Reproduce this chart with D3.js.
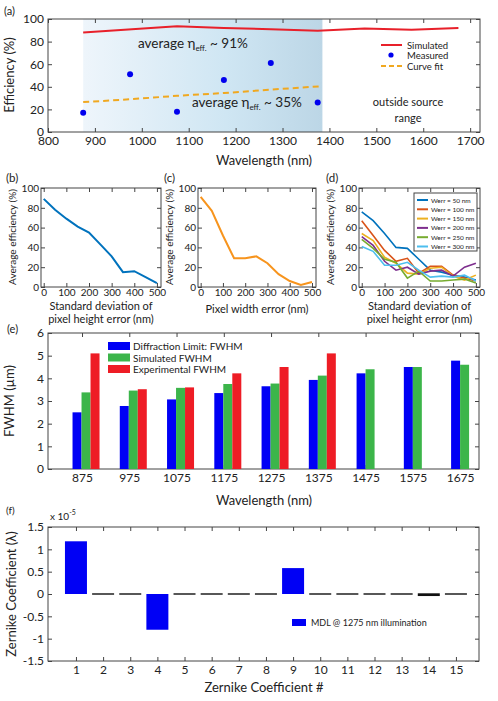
<!DOCTYPE html><html><head><meta charset="utf-8">
<script src="https://cdn.jsdelivr.net/npm/d3@7"></script>
<style>body{margin:0;background:#fff}text{font-family:Lato,"Open Sans",sans-serif;fill:#222}</style></head><body>
<svg id="s" width="498" height="701"></svg>
<script>
// ---- data ----
const simWl=[875,1075,1175,1275,1375,1475,1575,1675];
const simEff=[88,93.5,92,91,89.5,91.5,90.5,92];
const measWl=[875,975,1075,1175,1275,1375];
const measEff=[17,51,18,46,61,26];
const fitWl=[875,975,1075,1175,1275,1385];
const fitEff=[26.5,29,32,34.5,37.5,40.5];
const errX=[0,50,100,150,200,250,300,350,400,450,500];
const bEff=[89,78,69,61,55,43,31,15,16,10,4];
const cEff=[91,77,52,29,29,31,24,13,6,2,5];
const dNames=["Werr = 50 nm","Werr = 100 nm","Werr = 150 nm","Werr = 200 nm","Werr = 250 nm","Werr = 300 nm"];
const dColors=["#0072BD","#D95319","#EDB120","#7E2F8E","#77AC30","#4DBEEE"];
const d50=[76,67,54,40,39,28,17,15,12,10,7];
const d100=[67,52,37,26,29,14,21,21,12,9,6];
const d150=[54,47,30,24,14,13,19,20,11,7,12];
const d200=[51,42,26,17,20,13,16,17,11,20,24];
const d250=[48,39,28,25,9,16,6,6,7,8,4];
const d300=[41,36,22,22,25,17,10,11,10,12,6];
const eWl=[875,975,1075,1175,1275,1375,1475,1575,1675];
const eDiff=[2.5,2.78,3.07,3.35,3.65,3.93,4.22,4.5,4.78];
const eSim=[3.38,3.46,3.58,3.75,3.77,4.12,4.4,4.5,4.6];
const eExp=[5.1,3.52,3.6,4.22,4.5,5.1,null,null,null];
const zIdx=[1,2,3,4,5,6,7,8,9,10,11,12,13,14,15];
const zVal=[1.18,0,0,-0.8,0,0,0,0,0.58,0,0,0,0,-0.03,0];

const svg=d3.select("#s");
const axC="#444";
function box(x0,x1,y0,y1){svg.append("rect").attr("x",x0).attr("y",y0).attr("width",x1-x0).attr("height",y1-y0).attr("fill","none").attr("stroke",axC).attr("stroke-width",1);}
function axes(x,y,x0,x1,y0,y1,xt,yt,fs,pad){
  pad=pad||4;
  const gx=svg.append("g").attr("transform",`translate(0,${y1})`).call(d3.axisBottom(x).tickValues(xt).tickSize(-4).tickPadding(pad).tickFormat(d3.format("d")));
  const gy=svg.append("g").attr("transform",`translate(${x0},0)`).call(d3.axisLeft(y).tickValues(yt).tickSize(-4).tickPadding(pad).tickFormat(d=>String(d)));
  const gx2=svg.append("g").attr("transform",`translate(0,${y0})`).call(d3.axisTop(x).tickValues(xt).tickSize(-4).tickFormat(""));
  const gy2=svg.append("g").attr("transform",`translate(${x1},0)`).call(d3.axisRight(y).tickValues(yt).tickSize(-4).tickFormat(""));
  [gx,gy,gx2,gy2].forEach(g=>{g.select(".domain").remove();g.selectAll("line").attr("stroke",axC);g.selectAll("text").attr("font-size",fs).attr("fill","#222").style("font-family","Lato,sans-serif");});
  box(x0,x1,y0,y1);
}
function txt(x,y,s,fs,anchor,rot){const t=svg.append("text").attr("x",x).attr("y",y).attr("font-size",fs).attr("text-anchor",anchor||"start").text(s);if(rot)t.attr("transform",`rotate(-90,${x},${y})`);return t;}

// ---- panel a ----
{const x0=48,x1=480,y0=19,y1=132;
const x=d3.scaleLinear().domain([800,1721]).range([x0,x1]);
const y=d3.scaleLinear().domain([0,100]).range([y1,y0]);
const grad=svg.append("defs").append("linearGradient").attr("id","g1");
grad.append("stop").attr("offset","0").attr("stop-color","#eef5fb");
grad.append("stop").attr("offset","0.6").attr("stop-color","#cfe6f3");
grad.append("stop").attr("offset","1").attr("stop-color","#bcd6e6");
svg.append("rect").attr("x",x(875)).attr("y",y0).attr("width",x(1385)-x(875)).attr("height",y1-y0).attr("fill","url(#g1)");
axes(x,y,x0,x1,y0,y1,d3.range(800,1701,100),d3.range(0,101,20),12);
const ln=d3.line().x(d=>x(d[0])).y(d=>y(d[1]));
svg.append("path").attr("d",ln(simWl.map((w,i)=>[w,simEff[i]]))).attr("fill","none").attr("stroke","#e8202a").attr("stroke-width",2);
svg.append("path").attr("d",d3.line().curve(d3.curveMonotoneX).x(d=>x(d[0])).y(d=>y(d[1]))(fitWl.map((w,i)=>[w,fitEff[i]]))).attr("fill","none").attr("stroke","#f0a820").attr("stroke-width",2).attr("stroke-dasharray","6,4");
svg.selectAll(".m").data(measWl).enter().append("circle").attr("cx",d=>x(d)).attr("cy",(d,i)=>y(measEff[i])).attr("r",3).attr("fill","#0000ee");
const t1=txt(138,48,"average η",13.5);t1.append("tspan").attr("font-size",8).attr("dy",3).text("eff.");t1.append("tspan").attr("dy",-3).text(" ~ 91%");
const t2=txt(192,107,"average η",13.5);t2.append("tspan").attr("font-size",8).attr("dy",3).text("eff.");t2.append("tspan").attr("dy",-3).text(" ~ 35%");
txt(408,106,"outside source",11,"middle");txt(408,122,"range",11,"middle");
svg.append("line").attr("x1",381).attr("x2",402).attr("y1",45).attr("y2",45).attr("stroke","#e8202a").attr("stroke-width",2);
svg.append("circle").attr("cx",391).attr("cy",55).attr("r",2.6).attr("fill","#0000ee");
svg.append("line").attr("x1",381).attr("x2",402).attr("y1",66).attr("y2",66).attr("stroke","#f0a820").attr("stroke-width",2).attr("stroke-dasharray","5,3");
txt(407,49,"Simulated",9.5);txt(407,59,"Measured",9.5);txt(407,70,"Curve fit",9.5);
txt(14,75,"Efficiency (%)",13,"middle",true);
txt(264,165,"Wavelength (nm)",13,"middle");
txt(4,15,"(a)",11);}

// ---- panels b,c,d ----
function small(x0,x1,lbl,lx,series,colors,xt1,xt2,sw){
  const y0=188,y1=287;
  const x=d3.scaleLinear().domain([-12,518]).range([x0,x1]);
  const y=d3.scaleLinear().domain([0,100]).range([y1,y0]);
  axes(x,y,x0,x1,y0,y1,d3.range(0,501,100),d3.range(0,101,20),10,2);
  const ln=d3.line().x((d,i)=>x(errX[i])).y(d=>y(d));
  series.forEach((s,k)=>svg.append("path").attr("d",ln(s)).attr("fill","none").attr("stroke",colors[k]).attr("stroke-width",sw));
  txt(x0-25,237,"Average efficiency (%)",10,"middle",true);
  const cx=(x0+x1)/2;
  txt(cx,xt2?310:313,xt1,11,"middle");if(xt2)txt(cx,323,xt2,11,"middle");
  txt(lx,182,lbl,11.5);
}
small(41,161,"(b)",6,[bEff],["#0072BD"],"Standard deviation of","pixel height error (nm)",2);
small(198,316,"(c)",164,[cEff],["#F7941D"],"Pixel width error (nm)",null,2);
small(359,480,"(d)",326,[d50,d100,d150,d200,d250,d300],dColors,"Standard deviation of","pixel height error (nm)",1.6);
{svg.append("rect").attr("x",414).attr("y",193).attr("width",63).attr("height",58).attr("fill","#fff").attr("stroke","#444");
dNames.forEach((n,i)=>{const yy=200+i*9.3;svg.append("line").attr("x1",417).attr("x2",428).attr("y1",yy).attr("y2",yy).attr("stroke",dColors[i]).attr("stroke-width",2);txt(431,yy+2.5,n,6.5);});}

// ---- panel e ----
{const x0=48,x1=479,y0=333,y1=469;
const x=d3.scaleLinear().domain([803,1715]).range([x0,x1]);
const y=d3.scaleLinear().domain([0,6]).range([y1,y0]);
axes(x,y,x0,x1,y0,y1,eWl,d3.range(0,7,1),12);
const bw=9;
eWl.forEach((w,i)=>{
  const vals=[[eDiff[i],"#0000f5"],[eSim[i],"#3cb54a"],[eExp[i],"#ee1c25"]].filter(v=>v[0]!=null);
  const n=vals.length;const c=x(w)+(n===3?4:0);
  vals.forEach((v,k)=>{const bx=c+(k-n/2)*bw;svg.append("rect").attr("x",bx).attr("width",bw).attr("y",y(v[0])).attr("height",y(0)-y(v[0])).attr("fill",v[1]);});
});
[["Diffraction Limit: FWHM","#0000f5"],["Simulated FWHM","#3cb54a"],["Experimental FWHM","#ee1c25"]].forEach((l,i)=>{const yy=342+i*11.5;svg.append("rect").attr("x",108).attr("y",yy).attr("width",22).attr("height",8).attr("fill",l[1]);txt(133,yy+8,l[0],10);});
txt(14,401,"FWHM (µm)",13,"middle",true);
txt(264,505,"Wavelength (nm)",13,"middle");
txt(7,333,"(e)",11);}

// ---- panel f ----
{const x0=48,x1=479,y0=527,y1=661;
const x=d3.scaleLinear().domain([-0.03,15.85]).range([x0,x1]);
const y=d3.scaleLinear().domain([-1.5,1.5]).range([y1,y0]);
axes(x,y,x0,x1,y0,y1,zIdx,[-1.5,-1,-0.5,0,0.5,1,1.5],12);
const bw=22;
zIdx.forEach((z,i)=>{const v=zVal[i];
  if(Math.abs(v)<0.1){svg.append("rect").attr("x",x(z)-bw/2).attr("width",bw).attr("y",y(Math.max(v,0))-0.7).attr("height",Math.max(1.4,Math.abs(y(v)-y(0))+1.4)).attr("fill","#111");}
  else svg.append("rect").attr("x",x(z)-bw/2).attr("width",bw).attr("y",y(Math.max(v,0))).attr("height",Math.abs(y(v)-y(0))).attr("fill","#0000f5");});
svg.append("rect").attr("x",292).attr("y",619).attr("width",14).attr("height",7).attr("fill","#0000f5");
txt(311,626,"MDL @ 1275 nm illumination",9);
const e=txt(50,520,"x 10",10);e.append("tspan").attr("font-size",7).attr("dy",-5).text("-5");
txt(16,594,"Zernike Coefficient (λ)",13,"middle",true);
txt(264,692,"Zernike Coefficient #",13,"middle");
txt(6,514,"(f)",10);}
</script></body></html>
